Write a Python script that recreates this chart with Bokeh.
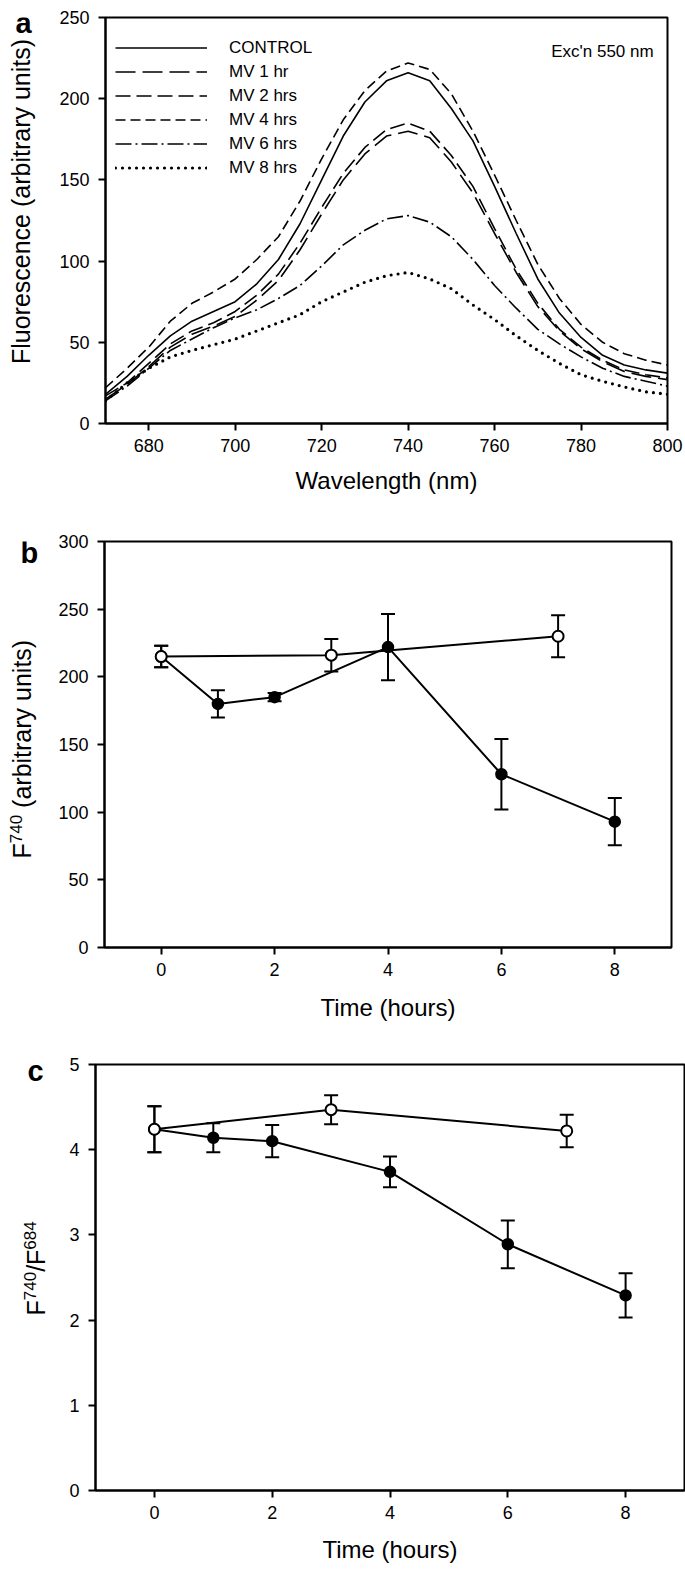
import math
from bokeh.plotting import figure
from bokeh.models import (Range1d, FixedTicker, Label, Legend, LegendItem,
                          Whisker, ColumnDataSource, TeeHead)
from bokeh.layouts import column, row
from bokeh.embed import file_html
from bokeh.resources import INLINE
from bokeh.core.properties import value

FONT = "Liberation Sans"

# ---------------- Panel a: emission spectra ----------------
wavelength = [670, 675, 680, 685, 690, 695, 700, 705, 710, 715, 720, 725, 730, 735,
              740, 745, 750, 755, 760, 765, 770, 775, 780, 785, 790, 795, 800]
control = [18, 29, 42, 54, 63, 69, 75, 86, 101, 123, 150, 177, 198, 211,
           216, 211, 194, 174, 146, 117, 89, 68, 53, 42, 36, 33, 31]
mv_1hr = [15, 24, 35, 47, 55, 60, 66, 76, 88, 107, 129, 150, 166, 177,
          180, 176, 161, 142, 117, 93, 72, 57, 46, 38, 32, 29, 27]
mv_2hrs = [17, 25, 37, 49, 57, 62, 69, 79, 92, 111, 133, 154, 170, 181,
           185, 180, 165, 146, 120, 95, 74, 58, 47, 39, 33, 30, 28]
mv_4hrs = [22, 34, 47, 63, 74, 81, 89, 101, 115, 137, 163, 187, 205, 217,
           222, 218, 203, 180, 153, 125, 98, 77, 61, 50, 43, 39, 36]
mv_6hrs = [14, 23, 34, 45, 52, 59, 65, 70, 77, 85, 97, 110, 119, 126,
           128, 124, 115, 101, 85, 71, 58, 49, 41, 34, 29, 26, 23]
mv_8hrs = [14, 25, 34, 41, 45, 48.5, 52, 57, 62, 67, 75, 81, 87, 91,
           93, 89, 83, 73, 64, 54, 45, 37, 30, 26, 22.5, 19.5, 18]
series_names = ["CONTROL", "MV 1 hr", "MV 2 hrs", "MV 4 hrs", "MV 6 hrs", "MV 8 hrs"]

# ---------------- Panel b: F740 vs time ----------------
time_mv = [0, 1, 2, 4, 6, 8]
f740_mv = [215, 180, 185, 222, 128, 93]
f740_mv_err = [8, 10, 3, 24.5, 26, 17.5]
time_ctrl = [0, 3, 7]
f740_ctrl = [215, 216, 230]
f740_ctrl_err = [8, 12, 15.5]

# ---------------- Panel c: F740/F684 vs time ----------------
ratio_mv = [4.24, 4.14, 4.10, 3.74, 2.89, 2.29]
ratio_mv_err = [0.27, 0.17, 0.19, 0.18, 0.28, 0.26]
ratio_ctrl = [4.24, 4.47, 4.22]
ratio_ctrl_err = [0.27, 0.17, 0.19]

SIDE_W = 54
TITLE_PX = 25
SUP_PX = 17
LETTER_PX = 29
MID = 0.33  # distance from alphabetic baseline to "middle" anchor, in em
EM = {"F": 0.611, "sup3": 3 * 0.556, "space": 0.278, "slash": 0.278}


def make_fig(xr, yr, fw, fh, left, right, top, bottom):
    p = figure(frame_width=fw, frame_height=fh, x_range=Range1d(*xr), y_range=Range1d(*yr),
               output_backend="svg", toolbar_location=None, tools="")
    p.min_border_left = left
    p.min_border_right = right
    p.min_border_top = top
    p.min_border_bottom = bottom
    p.xgrid.visible = False
    p.ygrid.visible = False
    p.outline_line_color = "black"
    p.outline_line_width = 2
    p.background_fill_color = "white"
    p.border_fill_color = "white"
    for ax in (p.xaxis[0], p.yaxis[0]):
        ax.axis_line_width = 2
        ax.axis_line_color = "black"
        ax.major_tick_line_width = 2
        ax.major_tick_line_color = "black"
        ax.major_tick_out = 7
        ax.major_tick_in = 0
        ax.minor_tick_out = 0
        ax.minor_tick_in = 0
        ax.major_label_text_font = FONT
        ax.major_label_text_font_size = "18px"
        ax.major_label_text_color = "black"
        ax.axis_label_text_font = FONT
        ax.axis_label_text_font_size = "24px"
        ax.axis_label_text_font_style = "normal"
        ax.axis_label_text_color = "black"
    p.xaxis.major_label_standoff = 8
    p.yaxis.major_label_standoff = 9
    p.xaxis.axis_label_standoff = 12
    return p


def side_fig(fh, top, bottom):
    """Left strip sharing the frame geometry of its panel (pixel coordinates)."""
    s = figure(frame_width=SIDE_W, frame_height=fh, x_range=Range1d(0, SIDE_W),
               y_range=Range1d(0, fh), x_axis_type=None, y_axis_type=None,
               title=None, output_backend="svg", toolbar_location=None, tools="",
               min_border_left=0, min_border_right=0,
               min_border_top=top, min_border_bottom=bottom)
    s.xgrid.visible = False
    s.ygrid.visible = False
    s.outline_line_color = None
    s.background_fill_color = "white"
    s.border_fill_color = "white"
    return s


def txt(s, x, y, text, size, bold=False, align="left", angle=0.0):
    s.text(x=[x], y=[y], text=[text], text_font=value(FONT),
           text_font_size=value(f"{size}px"),
           text_font_style="bold" if bold else "normal", text_color="black",
           text_baseline="middle", text_align=align, angle=angle)


def letter(s, frame_bottom, x_left, baseline_page_y, text):
    y = frame_bottom - (baseline_page_y - MID * LETTER_PX)
    txt(s, x_left, y, text, LETTER_PX, bold=True)


def vertical_title(s, baseline_x, y_start, parts):
    y = y_start
    for text, kind, adv in parts:
        if kind == "sup":
            txt(s, baseline_x - 9 - MID * SUP_PX, y, text, SUP_PX, angle=math.pi / 2)
        else:
            txt(s, baseline_x - MID * TITLE_PX, y, text, TITLE_PX, angle=math.pi / 2)
        y += adv


# ---- Panel a ----  frame: page y 17..423
pa = make_fig((670, 800), (0, 250), 562, 406, 105 - SIDE_W, 18, 17, 82)
pa.xaxis.ticker = FixedTicker(ticks=[680, 700, 720, 740, 760, 780, 800])
pa.yaxis.ticker = FixedTicker(ticks=[0, 50, 100, 150, 200, 250])
pa.xaxis.axis_label = "Wavelength (nm)"

styles = [
    dict(line_dash="solid", line_width=1.6),
    dict(line_dash="20 7", line_width=1.6),
    dict(line_dash="15 6", line_width=1.6),
    dict(line_dash="10 5", line_width=1.6),
    dict(line_dash="16 4 2 4", line_width=1.6),
    dict(line_dash="0 7", line_width=3.2, line_cap="round"),
]
all_series = [control, mv_1hr, mv_2hrs, mv_4hrs, mv_6hrs, mv_8hrs]
items = []
for name, ys, st in zip(series_names, all_series, styles):
    r = pa.line(wavelength, ys, line_color="black", **st)
    items.append(LegendItem(label=name, renderers=[r]))

legend = Legend(items=items, location=(10, 244), padding=0, margin=0, spacing=1,
                glyph_width=92, glyph_height=23, label_height=23, label_standoff=22,
                label_text_font=FONT, label_text_font_size="17px",
                label_text_color="black", border_line_color=None,
                background_fill_alpha=0)
pa.add_layout(legend)
pa.add_layout(Label(x=796.8, y=228.8, text="Exc'n 550 nm", text_font=FONT,
                    text_font_size="17px", text_color="black", text_align="right",
                    text_baseline="middle"))

sa = side_fig(406, 17, 82)
letter(sa, 423, 15, 32, "a")
txt(sa, 29 - MID * TITLE_PX, 423 - 201, "Fluorescence (arbitrary units)", TITLE_PX,
    align="center", angle=math.pi / 2)

# ---- Panel b ----  frame: page y 541..947
pb = make_fig((-1, 9), (0, 300), 567, 406, 104 - SIDE_W, 14, 36, 83)
pb.xaxis.ticker = FixedTicker(ticks=[0, 2, 4, 6, 8])
pb.yaxis.ticker = FixedTicker(ticks=[0, 50, 100, 150, 200, 250, 300])
pb.xaxis.axis_label = "Time (hours)"
pb.xaxis.axis_label_standoff = 15

sb = side_fig(406, 36, 83)
letter(sb, 947, 20, 562, "b")
vertical_title(sb, 30, 947 - 858, [
    ("F", "main", EM["F"] * TITLE_PX),
    ("740", "sup", EM["sup3"] * SUP_PX + EM["space"] * TITLE_PX),
    ("(arbitrary units)", "main", 0),
])

# ---- Panel c ----  frame: page y 1064..1490
pc = make_fig((-1, 9), (0, 5), 589, 426, 95 - SIDE_W, 1, 34, 79)
pc.xaxis.ticker = FixedTicker(ticks=[0, 2, 4, 6, 8])
pc.yaxis.ticker = FixedTicker(ticks=[0, 1, 2, 3, 4, 5])
pc.xaxis.axis_label = "Time (hours)"
pc.xaxis.axis_label_standoff = 14

sc = side_fig(426, 34, 79)
letter(sc, 1490, 27, 1080, "c")
vertical_title(sc, 44, 1490 - 1315, [
    ("F", "main", EM["F"] * TITLE_PX),
    ("740", "sup", EM["sup3"] * SUP_PX),
    ("/", "main", EM["slash"] * TITLE_PX),
    ("F", "main", EM["F"] * TITLE_PX),
    ("684", "sup", 0),
])


def time_series(p, tx, ty, terr, cx, cy, cerr):
    src_t = ColumnDataSource(dict(x=tx, y=ty,
                                  lo=[a - b for a, b in zip(ty, terr)],
                                  hi=[a + b for a, b in zip(ty, terr)]))
    src_c = ColumnDataSource(dict(x=cx, y=cy,
                                  lo=[a - b for a, b in zip(cy, cerr)],
                                  hi=[a + b for a, b in zip(cy, cerr)]))
    for src in (src_t, src_c):
        p.add_layout(Whisker(base="x", lower="lo", upper="hi", source=src,
                             line_width=2, line_color="black",
                             upper_head=TeeHead(size=14, line_width=2, line_color="black"),
                             lower_head=TeeHead(size=14, line_width=2, line_color="black")))
    p.line("x", "y", source=src_t, line_width=2, line_color="black")
    p.line("x", "y", source=src_c, line_width=2, line_color="black")
    p.scatter("x", "y", source=src_t, marker="circle", size=11,
              fill_color="black", line_color="black", line_width=1.5)
    p.scatter("x", "y", source=src_c, marker="circle", size=11,
              fill_color="white", line_color="black", line_width=2)


time_series(pb, time_mv, f740_mv, f740_mv_err, time_ctrl, f740_ctrl, f740_ctrl_err)
time_series(pc, time_mv, ratio_mv, ratio_mv_err, time_ctrl, ratio_ctrl, ratio_ctrl_err)

layout = column(row(sa, pa, spacing=0), row(sb, pb, spacing=0), row(sc, pc, spacing=0),
                spacing=0)
open("out.html", "w").write(file_html(layout, INLINE))
